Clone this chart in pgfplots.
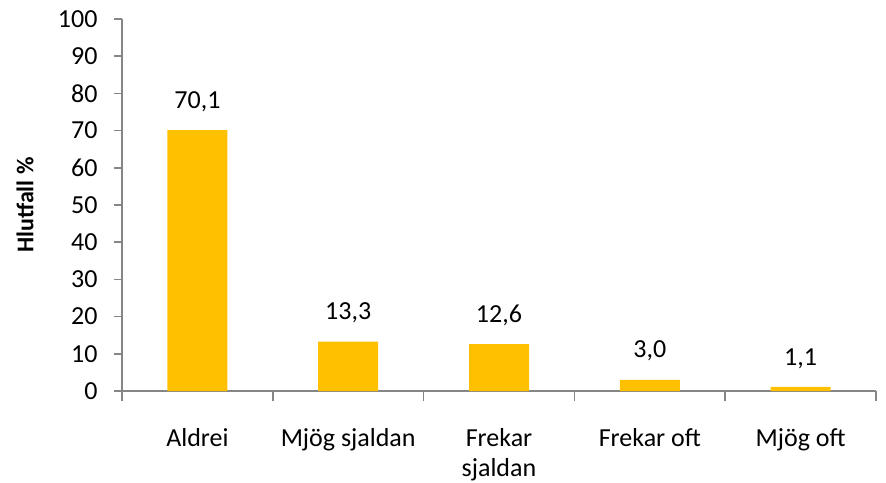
\documentclass[border=0pt]{standalone}
\usepackage{fontspec}
\setmainfont{Carlito}
\usepackage{pgfplots}
\pgfplotsset{compat=1.18}
\usetikzlibrary{calc}
\definecolor{barAmber}{RGB}{255,192,0}
\definecolor{axGray}{RGB}{134,134,134}

\begin{document}
\begin{tikzpicture}
  \begin{axis}[
    name=ax,
    scale only axis,
    width=754pt, height=372pt,
    ybar, bar width=60pt,
    xmin=-0.5, xmax=4.5,
    ymin=0, ymax=100,
    ytick={0,10,...,100},
    xtick={0,1,2,3,4},
    xticklabels={Aldrei,Mjög sjaldan,{Frekar\\sjaldan},Frekar oft,Mjög oft},
    minor xtick={-0.5,0.5,1.5,2.5,3.5,4.5},
    axis x line*=bottom,
    axis y line*=left,
    axis line style={draw=axGray, line width=1.5pt, -},
    tick style={draw=axGray, line width=1.5pt},
    major x tick style={draw=none},
    minor tick length=10pt,
    major tick length=8pt,
    tick align=outside,
    every tick label/.append style={font=\fontsize{26}{30}\selectfont, text=black},
    /pgf/number format/assume math mode=true,
    yticklabel style={xshift=-13pt},
    xticklabel style={align=center, yshift=-26pt},
    ylabel={\textbf{Hlutfall \%}},
    ylabel style={at={(axis description cs:0,0.5)}, rotate=0, anchor=center, yshift=97pt, font=\fontsize{24}{28}\selectfont},
    nodes near coords,
    nodes near coords style={font=\fontsize{26}{30}\selectfont, text=black, yshift=15pt,
      /pgf/number format/.cd, fixed, fixed zerofill, precision=1, use comma, assume math mode=true},
  ]
    \addplot[fill=barAmber, draw=none] coordinates {(0,70.1) (1,13.3) (2,12.6) (3,3.0) (4,1.1)};
  \end{axis}
  \pgfresetboundingbox
  \path ($(ax.south west)+(-122pt,-91pt)$) rectangle ($(ax.south west)+(764pt,391pt)$);
\end{tikzpicture}
\end{document}
